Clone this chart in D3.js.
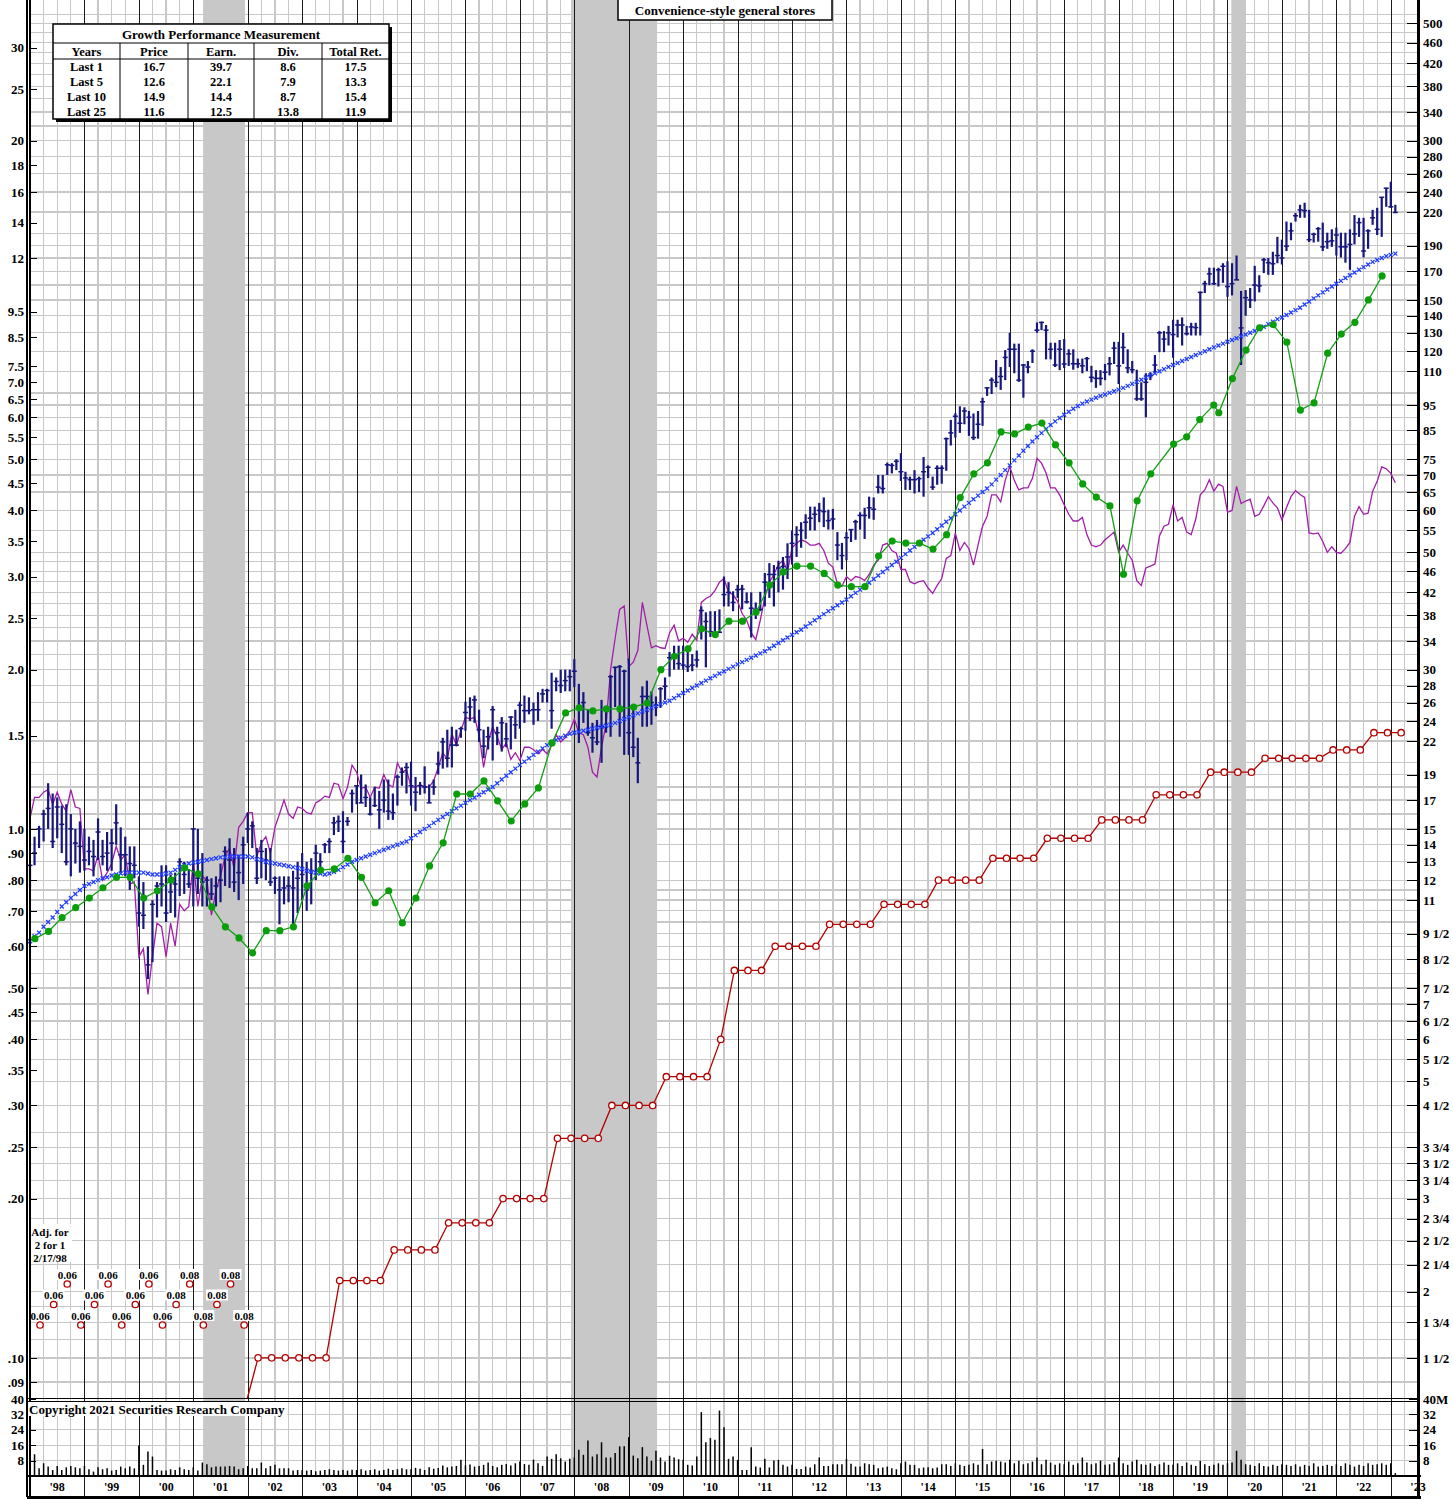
<!DOCTYPE html>
<html lang="en">
<head>
<meta charset="UTF-8">
<title>Convenience-style general stores</title>
<script src="https://cdnjs.cloudflare.com/ajax/libs/d3/7.8.5/d3.min.js"></script>
<style>
    body{margin:0;background:#fff;}
    svg text{font-family:"Liberation Serif","Times New Roman",serif;font-weight:bold;fill:#000;}
    .axis path{display:none;}
    .axis line{stroke:#000;shape-rendering:crispEdges;}
    .axis text{font-size:13px;}
    .grid line{stroke:#c8c8c8;stroke-width:1.3;shape-rendering:crispEdges;}
</style>
</head>
<body>
<script>
// ---- data (price bars: monthly, Jan 1998 onward, $ on right scale) ----
var priceHigh = [
  12.8,14.5,15.2,16.3,18.3,17.5,17.2,16.6,16.7,16.0,15.0,15.5,
  15.0,14.5,14.3,15.7,14.3,14.8,15.0,16.7,15.1,14.5,13.9,13.9,
  12.2,11.9,9.0,11.0,11.9,12.8,12.8,12.3,12.4,13.2,13.0,12.6,
  15.0,15.0,13.5,12.2,12.1,12.2,12.9,13.9,14.4,13.8,13.4,14.5,
  16.1,15.5,13.8,14.3,13.8,13.8,12.2,12.2,12.2,12.2,12.5,13.0,
  13.5,13.0,13.2,14.0,13.5,14.1,14.4,15.8,15.9,16.2,15.8,17.8,
  18.1,19.0,18.2,17.2,18.0,17.7,18.6,18.6,17.5,19.0,19.6,20.0,
  20.1,18.8,18.4,19.7,18.2,18.6,21.0,22.3,23.1,23.4,23.1,23.4,
  26.1,26.6,26.8,25.2,23.1,23.4,25.6,23.4,24.4,23.8,24.5,25.2,
  26.1,26.8,26.6,26.0,27.2,27.6,27.6,29.6,29.0,30.0,30.0,30.0,
  31.4,28.2,27.2,25.2,23.8,24.1,26.3,25.5,29.3,30.4,30.6,30.0,
  31.5,25.2,22.3,27.9,28.6,27.3,26.7,27.8,29.0,32.4,33.3,33.3,
  33.3,33.3,32.1,32.6,39.5,38.5,38.7,38.7,39.0,45.0,43.9,42.2,
  43.4,43.4,42.0,42.0,40.2,42.1,45.7,47.7,47.3,48.2,49.0,52.0,
  55.0,56.0,57.0,59.0,61.0,61.0,62.0,63.5,60.2,60.4,54.6,52.1,
  54.6,55.2,57.6,59.5,60.7,63.7,63.5,70.0,70.0,73.9,73.7,75.0,
  77.0,71.0,69.5,71.5,69.5,75.7,73.0,69.5,73.0,73.0,82.4,89.0,
  91.6,94.4,94.0,92.5,91.5,92.5,98.0,102.6,107.0,115.5,112.0,120.6,
  130,124,124,113.5,115,121,136,136.5,134.5,124.5,124.5,126,
  126.5,121,121,116.2,116.2,117,112.6,110.5,110.5,113.5,117,125,
  125,130,121,115,110.7,104.8,109,109.5,118,131,131,134,
  137.6,137.6,139,134,135.8,135.8,155.6,163,172.6,172.6,172.6,176,
  177.5,176,182,156,156.6,158,174,167,180,180,185,197.4,
  195,211,210,219,227,229,222,201,206,210,201,204,
  205.5,201,201,204,217,214.5,214.5,204,222,224,234.5,244,
  251,227
];
var priceLow = [
  11.6,12.8,13.8,14.2,15.0,13.8,14.4,13.5,12.8,12.2,12.9,12.4,
  12.5,12.8,12.2,13.1,12.8,12.5,12.5,14.0,12.4,12.2,11.5,12.1,
  9.8,9.7,7.8,8.4,10.2,10.7,10.0,10.4,10.2,11.2,11.3,11.6,
  10.7,11.3,10.7,10.7,11.0,10.7,10.9,11.7,11.6,11.4,11.0,11.8,
  14.1,13.8,11.8,12.1,12.0,11.7,11.3,9.9,10.8,10.9,9.8,10.4,
  11.0,10.5,10.8,12.0,12.7,13.5,13.5,14.6,14.8,13.5,15.2,16.1,
  16.7,16.8,16.5,15.9,16.5,15.0,16.1,15.6,15.6,16.6,18.1,17.5,
  16.6,16.2,17.4,17.5,16.8,17.4,19.0,19.5,19.6,19.6,21.5,22.3,
  23.0,24.0,23.8,21.9,20.4,21.2,20.2,21.6,21.0,21.4,21.2,22.2,
  23.2,23.8,24.7,23.6,24.0,26.0,26.0,23.2,27.3,27.1,27.3,27.3,
  27.8,21.8,23.8,22.5,20.9,21.6,20.0,22.8,22.4,25.5,22.4,20.7,
  20.7,20.5,18.3,23.4,23.4,23.6,24.5,25.4,26.3,29.1,30.0,30.0,
  30.0,29.7,29.8,30.3,34.2,30.3,34.6,35.0,35.3,39.5,39.5,38.7,
  41.0,39.0,40.0,34.5,37.4,38.7,39.5,41.0,39.5,42.0,42.5,44.5,
  47.4,49.0,51.0,53.0,55.0,55.0,57.0,55.8,55.2,55.2,48.3,46.4,
  48.3,52.3,52.8,55.2,53.0,57.9,57.6,64.6,64.6,70.0,70.5,71.5,
  68.2,65.6,65.6,64.6,65.0,63.7,69.1,65.6,67.1,67.4,71.3,79.6,
  82.4,84.1,87.3,83.0,81.5,82.0,86.7,98.8,99.6,102.6,101.4,105.8,
  112,109,105,98,109,114,130,131.5,115.8,115.8,112,110.5,
  111.5,112.5,110.7,111.6,109,110,104.8,102.3,103.4,105.8,108,113.5,
  104,113.5,109,109,96.7,96.7,90,105.8,109,119.5,119.5,123,
  116.6,127.4,123,128.5,128.5,128.5,128.5,154.6,160,160,159,161.6,
  152,153,163.7,113,140,144.8,149,155,168.6,167.3,167.3,176,
  175,185.6,194.5,211,214.5,214.5,193,192.6,193.3,185.6,187.4,189,
  182,180.5,176.4,171,191,197.4,180.5,187.4,208,199,197.4,225,
  224,219.5
];
var priceClose = [
  12.8,13.5,15.0,16.0,16.4,14.2,16.5,15.3,13.0,15.0,14.1,13.9,
  13.1,13.6,13.3,14.8,13.3,13.5,14.1,15.4,13.4,13.4,12.9,12.8,
  10.4,10.3,8.3,10.8,11.7,11.8,10.4,11.4,11.8,13.0,12.3,11.8,
  15.0,12.1,11.9,12.0,11.3,11.7,12.0,13.6,13.1,11.9,12.4,14.0,
  15.0,15.2,12.1,13.6,13.1,11.9,12.1,11.5,11.6,11.7,11.6,12.1,
  12.3,11.5,12.5,13.5,13.0,14.0,14.2,15.4,15.5,14.2,15.5,17.5,
  18.1,16.8,17.2,16.0,16.6,16.3,17.0,16.2,16.1,18.8,19.2,19.6,
  18.1,17.6,18.1,18.0,16.8,18.0,19.9,21.9,20.4,21.6,21.6,23.2,
  24.9,25.5,26.3,23.1,21.5,22.4,25.2,22.8,23.8,22.2,24.4,23.6,
  25.7,25.1,25.1,25.2,25.2,27.0,27.4,25.1,28.5,28.0,28.6,29.1,
  29.8,25.4,26.0,22.8,22.3,21.9,23.4,25.2,29.1,30.3,30.4,29.8,
  22.8,21.4,20.0,26.7,26.7,26.0,25.7,27.6,27.9,31.6,31.7,30.8,
  30.6,30.4,30.6,31.3,38.8,37.0,35.4,35.2,35.3,41.6,42.0,40.2,
  42.5,42.6,40.3,39.2,39.0,39.0,43.9,45.4,45.4,46.7,47.0,49.0,
  52.0,54.0,55.0,57.0,58.0,59.0,60.0,59.7,57.4,57.8,51.6,49.3,
  53.3,55.2,57.1,58.7,58.7,60.7,60.3,66.4,66.0,73.2,73.0,74.3,
  71.0,69.1,68.6,68.6,68.9,71.0,72.4,66.4,72.1,72.1,82.0,84.1,
  90.4,87.7,92.5,90.0,82.4,87.3,96.3,102.3,105.8,104.8,107.5,116.8,
  121,121,105.8,113,112,120,131.5,136,131.5,121,113,121,
  113.5,118.6,113.6,113.6,112.6,116.2,107.1,106.6,106.6,109.5,113.6,121.6,
  112.6,122,111.6,110.7,97.5,97.5,104.8,108,113,130,126.5,130,
  129,134.5,134.5,129.5,133.4,133,155,161,168,161,171,173.7,
  159,161,163.7,132.8,151.5,150,160,159.5,178.6,176.4,175.6,182,
  180,189.6,202.6,216.4,222,221.3,195,199.6,204.5,189,193.3,194,
  199,189,189,191,200,210,185.6,202.6,214.5,204,234.5,244,
  225,219.5
];
// moving average of price (monthly, $)
var movingAvg = [
  9.2,9.4,9.55,9.8,10.0,10.2,10.45,10.7,10.9,11.1,11.3,11.5,
  11.7,11.8,11.9,12.0,12.1,12.15,12.25,12.3,12.35,12.4,12.4,12.4,
  12.4,12.4,12.35,12.3,12.3,12.3,12.35,12.4,12.55,12.7,12.8,12.9,
  12.95,13.0,13.05,13.1,13.15,13.2,13.25,13.25,13.3,13.3,13.3,13.3,
  13.3,13.25,13.15,13.1,13.0,12.95,12.9,12.85,12.8,12.75,12.7,12.65,
  12.6,12.5,12.45,12.4,12.35,12.3,12.35,12.45,12.55,12.7,12.85,13.0,
  13.1,13.2,13.3,13.4,13.5,13.6,13.7,13.8,13.9,14.0,14.1,14.2,
  14.4,14.6,14.8,15.0,15.2,15.4,15.6,15.8,16.0,16.2,16.4,16.6,
  16.8,17.0,17.2,17.4,17.6,17.8,18.0,18.3,18.6,18.9,19.2,19.5,
  19.8,20.1,20.4,20.7,21.0,21.3,21.6,21.9,22.1,22.3,22.5,22.7,
  22.8,22.9,23.0,23.1,23.2,23.3,23.4,23.5,23.6,23.8,24.0,24.2,
  24.4,24.6,24.8,25.0,25.2,25.4,25.6,25.8,26.0,26.2,26.5,26.8,
  27.1,27.4,27.7,28.0,28.3,28.6,28.9,29.2,29.5,29.8,30.1,30.4,
  30.7,31.0,31.3,31.6,31.9,32.2,32.5,32.9,33.3,33.7,34.1,34.5,
  34.9,35.3,35.7,36.2,36.7,37.2,37.7,38.2,38.7,39.2,39.7,40.2,
  40.7,41.3,41.9,42.5,43.1,43.8,44.5,45.2,45.9,46.6,47.3,48.0,
  48.8,49.6,50.4,51.2,52.0,52.8,53.6,54.4,55.3,56.2,57.1,58.0,
  59.0,60.0,61.0,62.0,63.0,64.0,65.0,66.0,67.2,68.6,70.0,71.5,
  73.0,74.6,76.2,77.8,79.4,81.0,82.5,84.0,85.5,87.0,88.4,89.7,
  91.0,92.2,93.4,94.5,95.5,96.4,97.2,98.0,98.7,99.4,100.1,100.8,
  101.5,102.3,103.2,104.1,105.0,106.0,107.0,108.0,109.0,110.0,111.0,112.0,
  113,114,115,116,117,118,119,120,121,122,123,124,
  125,126,127,128,129,130,131,132,133.5,135,136.5,138,
  139,140.5,142,143.5,145,147,149,151,153,155,157,159,
  161,163,165,167,169,171,173,175,177,178.5,180,181.5,
  182.5,183.5
];
// relative strength line (monthly, plotted on price scale)
var relStrength = [
  15.7,17.2,17.2,17.6,17.8,16.7,17.6,16.7,16.2,17.8,16.5,16.4,
  12.6,12.6,12.5,13.4,12.0,12.4,12.9,13.9,13.1,13.4,11.8,11.9,
  8.6,8.9,7.3,8.6,9.95,9.8,8.6,9.95,9.0,10.8,10.5,10.7,
  13.0,10.7,12.2,12.0,10.3,11.5,12.2,13.3,13.8,12.6,15.1,15.5,
  16.1,16.1,13.3,14.1,14.5,13.5,15.1,16.0,17.0,16.0,15.7,16.5,
  16.4,16.1,16.0,16.8,17.0,17.3,17.2,18.3,18.2,17.1,18.0,19.8,
  19.2,17.9,18.0,17.2,18.0,17.9,19.0,18.2,18.0,20.0,19.2,19.4,
  18.0,18.0,18.2,18.0,18.0,18.5,19.6,20.9,20.3,22.7,21.6,23.0,
  24.4,24.2,24.4,22.6,19.6,21.9,23.4,22.4,21.2,21.8,20.3,20.9,
  20.2,21.4,21.4,21.2,20.8,21.2,20.8,21.6,22.6,21.9,22.3,23.0,
  24.2,22.8,22.6,21.4,19.2,18.8,21.4,23.7,30.0,34.4,39.0,39.6,
  30.4,31.0,32.6,40.2,36.4,33.0,33.3,33.0,32.9,35.2,36.4,34.0,
  34.4,33.8,35.0,34.1,40.2,40.9,41.3,42.3,43.9,44.6,42.0,41.6,
  40.4,38.3,37.2,35.2,34.2,37.2,41.1,43.9,45.4,47.4,48.3,46.0,
  51,52,52.8,52.4,51.6,51.6,52,50.4,47.7,46.9,43.6,43.1,
  45,44.2,45,44.8,44.2,45.4,47.3,48.3,51.6,52,50.4,49.8,
  46.4,46.4,44,43.6,44,44.2,42.8,41.8,43.3,44.6,48.7,49.3,
  54.4,50.4,52.2,50.8,47.3,51.6,56,58.5,64.2,64.2,62.3,68.4,
  72.7,68.4,65.6,66.2,66.2,69,75.3,73.7,70.6,66.2,66.2,64.2,
  61.5,59,57.3,57.3,58.2,54,51.6,51.2,51.6,52.8,53.7,54.6,
  50,51.6,49.8,48.3,44.2,43.3,46.7,47.1,47.5,53.7,56,56.5,
  61.5,57.3,58.2,54.6,54,57.8,64.2,65.6,68.6,65.2,67.3,66.6,
  59.5,60,66.6,61.8,62.5,63,58.5,59,61.2,63.7,62,60.7,
  57.6,60.7,63.7,65.4,64.3,63.5,54.4,54.2,54.4,52.4,50,51.2,
  50,49.8,50.8,52.2,58.5,61,59,59.3,65.2,68.1,72.5,71.9,
  70.5,67.7
];
// monthly volume, millions of shares
var volume = [
  3.1,11.3,4.0,6.6,4.9,3.1,5.2,3.1,4.5,5.2,4.5,4.0,
  5.2,3.5,2.3,4.5,3.5,4.0,2.8,3.1,4.9,4.0,4.9,4.0,
  15.9,5.8,12.7,10.1,3.1,2.8,2.8,3.5,3.1,4.5,3.5,3.1,
  4.5,2.8,7.0,6.1,4.5,4.9,4.9,4.9,5.2,4.9,3.5,4.0,
  5.2,4.0,4.0,7.0,4.0,5.2,5.8,4.0,4.0,4.0,2.8,3.1,
  3.0,2.8,3.1,2.5,2.8,3.1,3.5,3.1,2.8,3.1,2.8,3.3,
  3.1,3.5,2.8,3.1,3.5,2.8,3.1,3.8,3.1,3.5,4.0,3.5,
  3.5,4.2,3.8,3.1,4.5,3.8,4.2,5.5,4.5,4.9,5.2,8.5,
  5.5,6.0,4.9,5.2,5.8,7.0,5.2,4.5,5.8,6.2,5.5,6.6,
  7.5,6.2,5.8,8.5,6.6,5.2,10.1,8.9,11.3,9.2,7.5,8.9,
  9.6,13.6,11.0,18.5,10.1,11.3,17.5,9.6,9.6,11.9,15.4,15.4,
  20.2,10.6,9.2,15.0,10.1,8.0,13.1,9.6,7.5,10.5,9.6,8.7,
  8.4,5.8,5.4,10.1,33.2,17.5,19.7,18.8,34.0,25.3,8.9,10.1,
  8.4,3.1,3.1,15.0,4.9,4.4,8.9,4.4,8.0,8.4,5.8,4.9,
  5.8,3.7,3.7,4.9,4.4,6.1,9.6,5.2,5.2,6.1,6.1,6.1,
  8.9,6.3,4.9,4.9,6.6,6.1,5.8,4.0,4.4,4.9,4.0,3.5,
  6.6,7.5,5.8,5.8,4.0,4.4,4.5,4.0,4.4,6.1,6.1,5.2,
  6.6,5.8,5.2,5.8,6.6,5.8,14.0,6.1,7.5,7.9,7.5,7.0,
  8.5,6.6,7.9,6.1,6.6,7.5,9.6,6.1,8.5,7.0,5.8,6.6,
  6.1,7.5,5.8,6.6,9.6,7.0,6.1,6.6,8.0,5.8,6.1,7.0,
  9.6,6.6,5.8,7.5,8.5,6.1,5.8,6.6,5.2,6.1,7.0,5.8,
  5.8,6.6,5.2,7.0,5.8,5.2,7.9,6.1,5.2,5.8,6.6,5.8,
  6.6,7.0,13.1,8.5,6.1,5.8,5.2,6.6,5.2,4.9,5.8,5.2,
  6.1,5.8,5.2,6.1,4.9,5.8,5.2,6.6,4.9,5.2,5.8,5.2,
  6.1,5.2,6.6,5.8,4.9,5.8,5.2,6.6,5.8,6.1,6.6,5.8,
  6.6,1.5
];
// quarterly earnings per share (left scale); quarter index from Q1 1998
var earnQuarter = d3.range(83).concat([83.68, 84.64, 85.6, 86.63, 87]).concat(d3.range(88, 100));
var earnings = [
  0.62,0.64,0.68,0.71,0.74,0.774,0.81,0.81,0.74,0.764,0.80,0.844,0.822,0.712,0.653,0.622,0.583,0.642,0.642,0.653,
  0.78,0.836,0.84,0.88,0.81,0.725,0.764,0.664,0.74,0.851,0.941,1.164,1.164,1.232,1.13,1.035,1.115,1.195,1.454,1.657,
  1.694,1.671,1.686,1.686,1.70,1.73,2.0,2.12,2.19,2.39,2.33,2.47,2.47,2.57,2.89,3.06,3.14,3.14,3.04,2.89,
  2.87,2.87,3.28,3.50,3.47,3.47,3.38,3.60,4.23,4.69,4.92,5.63,5.58,5.75,5.85,5.32,4.92,4.49,4.24,4.08,
  3.03,4.17,4.69,
  5.34,5.51,5.94,6.33,6.12,
  7.1,8.04,8.86,8.98,8.32,6.19,6.39,7.93,8.62,9.07,10.0,11.1
];
// dividends (left scale), quarters 15..100
var divFirstQuarter = 15;
var dividends = [
  0.08,
  0.10,0.10,0.10,0.10,0.10,0.10,
  0.14,0.14,0.14,0.14, 0.16,0.16,0.16,0.16, 0.18,0.18,0.18,0.18, 0.20,0.20,0.20,0.20,
  0.26,0.26,0.26,0.26, 0.30,0.30,0.30,0.30, 0.34,0.34,0.34,0.34,
  0.40, 0.54,0.54,0.54,
  0.60,0.60,0.60,0.60, 0.66,0.66,0.66,0.66, 0.72,0.72,0.72,0.72, 0.80,0.80,0.80,0.80,
  0.88,0.88,0.88,0.88, 0.96,0.96,0.96,0.96, 1.04,1.04,1.04,1.04, 1.16,1.16,1.16,1.16,
  1.28,1.28,1.28,1.28, 1.36,1.36,1.36,1.36,1.36, 1.41,1.41,1.41, 1.52,1.52,1.52
];
// early quarterly dividends shown as labels (quarters 0..15)
var divLabels = ["0.06","0.06","0.06","0.06","0.06","0.06","0.06","0.06","0.06","0.06","0.08","0.08","0.08","0.08","0.08","0.08"];

var recessions = [[2001.18, 2001.95], [2007.94, 2009.52], [2020.07, 2020.34]];

var leftTicks  = [30,25,20,18,16,14,12,9.5,8.5,7.5,7.0,6.5,6.0,5.5,5.0,4.5,4.0,3.5,3.0,2.5,2.0,1.5,1.0,0.9,0.8,0.7,0.6,0.5,0.45,0.4,0.35,0.3,0.25,0.2,0.1,0.09];
var leftLabels = ["30","25","20","18","16","14","12","9.5","8.5","7.5","7.0","6.5","6.0","5.5","5.0","4.5","4.0","3.5","3.0","2.5","2.0","1.5","1.0",".90",".80",".70",".60",".50",".45",".40",".35",".30",".25",".20",".10",".09"];
var rightTicks  = [500,460,420,380,340,300,280,260,240,220,190,170,150,140,130,120,110,95,85,75,70,65,60,55,50,46,42,38,34,30,28,26,24,22,19,17,15,14,13,12,11,9.5,8.5,7.5,7,6.5,6,5.5,5,4.5,3.75,3.5,3.25,3,2.75,2.5,2.25,2,1.75,1.5];
var rightLabels = ["500","460","420","380","340","300","280","260","240","220","190","170","150","140","130","120","110","95","85","75","70","65","60","55","50","46","42","38","34","30","28","26","24","22","19","17","15","14","13","12","11","9 1/2","8 1/2","7 1/2","7","6 1/2","6","5 1/2","5","4 1/2","3 3/4","3 1/2","3 1/4","3","2 3/4","2 1/2","2 1/4","2","1 3/4","1 1/2"];
var gridPrices = [1.35,1.5,1.625,1.75,1.875,2,2.25,2.5,2.75,3,3.25,3.5,3.75,4,4.5,5,5.5,6,6.5,7,7.5,8,8.5,9,9.5,10,10.5,11,11.5,12,13,14,15,16,17,18,19,20,22,24,26,28,30,32,34,36,38,40,42,44,46,48,50,55,60,65,70,75,80,85,90,95,100,110,120,130,140,150,160,170,180,190,200,220,240,260,280,300,320,340,360,380,400,420,440,460,480,500,520];
var volTicks = [8,16,24,32,40];

var tableHeaders = ["Years","Price","Earn.","Div.","Total Ret."];
var tableRows = [
  ["Last 1","16.7","39.7","8.6","17.5"],
  ["Last 5","12.6","22.1","7.9","13.3"],
  ["Last 10","14.9","14.4","8.7","15.4"],
  ["Last 25","11.6","12.5","13.8","11.9"]
];

// ---- layout ----
var width = 1453, height = 1501;
var plotL = 30, plotR = 1418, priceBottom = 1399, volBottom = 1476, bandBottom = 1497;
var PE = 15;

var svg = d3.select("body").append("svg")
    .attr("width", width).attr("height", height);
svg.append("rect").attr("width", width).attr("height", height).attr("fill", "#fff");

var x = d3.scaleLinear().domain([1998, 2023.5]).range([plotL, plotR]);
var yLeft = d3.scaleLog().domain([0.0836, 36.9]).range([priceBottom, 0]);
var yPrice = d3.scaleLog().domain([0.0836 * PE, 36.9 * PE]).range([priceBottom, 0]);
var yVol = d3.scaleLinear().domain([0, 40]).range([volBottom, priceBottom]);

var monthDate = function(i){ return 1998 + i / 12; };
var earnDate = function(q){ return 1998.09 + q / 4; };
var divDate = function(q){ return 1998.19 + q / 4; };

svg.append("clipPath").attr("id", "pclip").append("rect")
    .attr("x", plotL - 2).attr("y", 0).attr("width", plotR - plotL + 2).attr("height", priceBottom);

// recession shading
svg.append("g").selectAll("rect").data(recessions).enter().append("rect")
    .attr("x", function(d){ return x(d[0]); })
    .attr("width", function(d){ return x(d[1]) - x(d[0]); })
    .attr("y", 0).attr("height", volBottom)
    .attr("fill", "#c8c8c8");

// grid
var grid = svg.append("g").attr("class", "grid");
grid.selectAll("line.q").data(d3.range(1998.25, 2023.5, 0.25).filter(function(d){ return d % 1 !== 0; }))
    .enter().append("line").attr("class", "q")
    .attr("x1", function(d){ return x(d); }).attr("x2", function(d){ return x(d); })
    .attr("y1", 0).attr("y2", volBottom);
grid.selectAll("line.h").data(gridPrices).enter().append("line").attr("class", "h")
    .attr("x1", plotL).attr("x2", plotR)
    .attr("y1", function(d){ return yPrice(d); }).attr("y2", function(d){ return yPrice(d); });
grid.selectAll("line.v").data(volTicks.slice(0, 4)).enter().append("line").attr("class", "v")
    .attr("x1", plotL).attr("x2", plotR)
    .attr("y1", function(d){ return yVol(d); }).attr("y2", function(d){ return yVol(d); });

// year lines
svg.append("g").selectAll("line").data(d3.range(1999, 2024)).enter().append("line")
    .attr("x1", function(d){ return Math.round(x(d)) + 0.5; }).attr("x2", function(d){ return Math.round(x(d)) + 0.5; })
    .attr("y1", 0).attr("y2", bandBottom)
    .attr("stroke", "#1a1a1a").attr("stroke-width", 1);

// volume
svg.append("g").selectAll("line").data(volume).enter().append("line")
    .attr("x1", function(d, i){ return x(monthDate(i)); }).attr("x2", function(d, i){ return x(monthDate(i)); })
    .attr("y1", yVol(0)).attr("y2", function(d){ return yVol(d); })
    .attr("stroke", "#000").attr("stroke-width", 1.5);

var plot = svg.append("g").attr("clip-path", "url(#pclip)");

// relative strength
plot.append("path").datum(relStrength)
    .attr("fill", "none").attr("stroke", "#a21ea8").attr("stroke-width", 1.3)
    .attr("d", d3.line().x(function(d, i){ return x(monthDate(i)); }).y(function(d){ return yPrice(d); }));

// price bars
var bars = plot.append("g").attr("stroke", "#16167c");
bars.selectAll("line.hl").data(priceClose).enter().append("line").attr("class", "hl")
    .attr("x1", function(d, i){ return x(monthDate(i)); }).attr("x2", function(d, i){ return x(monthDate(i)); })
    .attr("y1", function(d, i){ return yPrice(priceHigh[i]); })
    .attr("y2", function(d, i){ return yPrice(priceLow[i]); })
    .attr("stroke-width", 2.2);
bars.selectAll("line.c").data(priceClose).enter().append("line").attr("class", "c")
    .attr("x1", function(d, i){ return x(monthDate(i)) - 2.5; }).attr("x2", function(d, i){ return x(monthDate(i)) + 2.5; })
    .attr("y1", function(d){ return yPrice(d); }).attr("y2", function(d){ return yPrice(d); })
    .attr("stroke-width", 1.5);

// moving average (x markers)
plot.append("g").selectAll("path").data(movingAvg).enter().append("path")
    .attr("transform", function(d, i){ return "translate(" + x(monthDate(i)) + "," + yPrice(d) + ")"; })
    .attr("d", "M-2,-2L2,2M-2,2L2,-2")
    .attr("stroke", "#1f3cff").attr("stroke-width", 1.3).attr("fill", "none");

// dividends
var divPts = dividends.map(function(d, k){ return [divDate(divFirstQuarter + k), d]; });
plot.append("path").datum(divPts)
    .attr("fill", "none").attr("stroke", "#b40000").attr("stroke-width", 1.3)
    .attr("d", d3.line().x(function(d){ return x(d[0]); }).y(function(d){ return yLeft(d[1]); }));
plot.append("g").selectAll("circle").data(divPts.slice(1)).enter().append("circle")
    .attr("cx", function(d){ return x(d[0]); }).attr("cy", function(d){ return yLeft(d[1]); })
    .attr("r", 3.2).attr("fill", "#fff").attr("stroke", "#b40000").attr("stroke-width", 1.3);

// earnings
var earnPts = earnings.map(function(d, k){ return [earnDate(earnQuarter[k]), d]; });
plot.append("path").datum(earnPts)
    .attr("fill", "none").attr("stroke", "#12a012").attr("stroke-width", 1.3)
    .attr("d", d3.line().x(function(d){ return x(d[0]); }).y(function(d){ return yLeft(d[1]); }));
plot.append("g").selectAll("circle").data(earnPts).enter().append("circle")
    .attr("cx", function(d){ return x(d[0]); }).attr("cy", function(d){ return yLeft(d[1]); })
    .attr("r", 3.6).attr("fill", "#0b9e0b");

// early dividend labels, staggered in three rows
var labG = svg.append("g");
divLabels.forEach(function(t, q){
    var cx = x(divDate(q)) - 0.3, cy = 1325 - (q % 3) * 20.5;
    labG.append("rect").attr("x", cx - 11).attr("y", cy - 15).attr("width", 22).attr("height", 11).attr("fill", "#fff");
    labG.append("text").attr("x", cx).attr("y", cy - 5.5).attr("text-anchor", "middle")
        .style("font-size", "11px").text(t);
    labG.append("circle").attr("cx", cx).attr("cy", cy).attr("r", 3.2)
        .attr("fill", "#fff").attr("stroke", "#b40000").attr("stroke-width", 1.3);
});
var adj = svg.append("g");
adj.append("rect").attr("x", 30).attr("y", 1224).attr("width", 42).attr("height", 38).attr("fill", "#fff");
["Adj. for", "2 for 1", "2/17/98"].forEach(function(t, k){
    adj.append("text").attr("x", 50).attr("y", 1236 + k * 13).attr("text-anchor", "middle")
        .style("font-size", "11px").text(t);
});

// axes
svg.append("g").attr("class", "axis").attr("transform", "translate(" + plotL + ",0)")
    .call(d3.axisLeft(yLeft).tickValues(leftTicks).tickSize(-7).tickPadding(6)
        .tickFormat(function(d, i){ return leftLabels[i]; }));
svg.append("g").attr("class", "axis").attr("transform", "translate(" + plotR + ",0)")
    .call(d3.axisRight(yPrice).tickValues(rightTicks).tickSize(-11).tickPadding(5)
        .tickFormat(function(d, i){ return rightLabels[i]; }));
svg.append("g").attr("class", "axis").attr("transform", "translate(" + plotL + ",0)")
    .call(d3.axisLeft(yVol).tickValues(volTicks).tickSize(-6).tickPadding(6));
svg.append("g").attr("class", "axis").attr("transform", "translate(" + plotR + ",0)")
    .call(d3.axisRight(yVol).tickValues(volTicks).tickSize(-9).tickPadding(5)
        .tickFormat(function(d){ return d === 40 ? "40M" : d; }));

// frame lines
var frame = svg.append("g").attr("stroke", "#000").style("shape-rendering", "crispEdges");
frame.append("line").attr("x1", 27).attr("x2", 27).attr("y1", 0).attr("y2", bandBottom).attr("stroke-width", 1.2);
frame.append("line").attr("x1", 30).attr("x2", 30).attr("y1", 0).attr("y2", bandBottom).attr("stroke-width", 1.2);
frame.append("line").attr("x1", plotR).attr("x2", plotR).attr("y1", 0).attr("y2", bandBottom).attr("stroke-width", 3);
frame.append("line").attr("x1", 27).attr("x2", plotR).attr("y1", priceBottom - 1).attr("y2", priceBottom - 1).attr("stroke-width", 1);
frame.append("line").attr("x1", 27).attr("x2", plotR).attr("y1", priceBottom + 2).attr("y2", priceBottom + 2).attr("stroke-width", 1);
frame.append("line").attr("x1", 27).attr("x2", plotR + 3).attr("y1", volBottom).attr("y2", volBottom).attr("stroke-width", 2.5);
frame.append("line").attr("x1", 27).attr("x2", plotR + 3).attr("y1", bandBottom).attr("y2", bandBottom).attr("stroke-width", 3);

// year labels
svg.append("g").selectAll("text").data(d3.range(1998, 2024)).enter().append("text")
    .attr("x", function(d){ return x(d + 0.5); }).attr("y", 1491)
    .attr("text-anchor", "middle").style("font-size", "12px")
    .text(function(d){ return "'" + String(d).slice(2); });

// copyright
svg.append("rect").attr("x", 29).attr("y", 1402).attr("width", 258).attr("height", 14).attr("fill", "#fff");
svg.append("text").attr("x", 29).attr("y", 1414).style("font-size", "13px")
    .text("Copyright 2021 Securities Research Company");

// title box
svg.append("rect").attr("x", 618).attr("y", -2).attr("width", 214).attr("height", 22)
    .attr("fill", "#fff").attr("stroke", "#000").attr("stroke-width", 1.5);
svg.append("text").attr("x", 725).attr("y", 15).attr("text-anchor", "middle")
    .style("font-size", "13px").text("Convenience-style general stores");

// growth table
var tb = svg.append("g");
var colX = [53, 120, 188, 254, 322, 389];
tb.append("rect").attr("x", 56).attr("y", 27).attr("width", 336).attr("height", 95).attr("fill", "#000");
tb.append("rect").attr("x", 53).attr("y", 24).attr("width", 336).attr("height", 95)
    .attr("fill", "#fff").attr("stroke", "#000").attr("stroke-width", 1.5);
tb.append("text").attr("x", 221).attr("y", 38.5).attr("text-anchor", "middle")
    .style("font-size", "13px").text("Growth Performance Measurement");
[43, 59].forEach(function(yy){
    tb.append("line").attr("x1", 53).attr("x2", 389).attr("y1", yy).attr("y2", yy)
        .attr("stroke", "#000").attr("stroke-width", 1.2);
});
colX.slice(1, 5).forEach(function(cx){
    tb.append("line").attr("x1", cx).attr("x2", cx).attr("y1", 43).attr("y2", 119)
        .attr("stroke", "#000").attr("stroke-width", 1);
});
tableHeaders.forEach(function(h, c){
    tb.append("text").attr("x", (colX[c] + colX[c + 1]) / 2).attr("y", 55.5).attr("text-anchor", "middle")
        .style("font-size", "12.5px").text(h);
});
tableRows.forEach(function(row, r){
    row.forEach(function(v, c){
        tb.append("text").attr("x", (colX[c] + colX[c + 1]) / 2).attr("y", 71 + r * 15)
            .attr("text-anchor", "middle").style("font-size", "12.5px").text(v);
    });
});
</script>
</body>
</html>
